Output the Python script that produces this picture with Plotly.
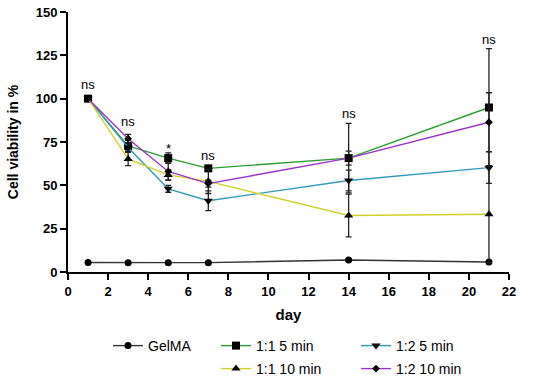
import plotly.graph_objects as go

days = [1, 3, 5, 7, 14, 21]

gelma = [5.5, 5.3, 5.4, 5.4, 6.9, 5.8]
gelma_err = [0.5, 0.5, 0.5, 0.5, 0.8, 0.5]

r11_5 = [100, 72.7, 65.7, 59.8, 65.7, 94.9]
r11_5_err = [0, 3.3, 3, 1.5, 20, 34]

r12_5 = [100, 71.8, 48, 41.1, 52.8, 60.2]
r12_5_err = [0, 2, 2, 5.7, 6, 9.1]

r11_10 = [100, 65.2, 56, 52.3, 32.6, 33.3]
r11_10_err = [0, 3.8, 3, 7, 12.3, 28]

r12_10 = [100, 76.9, 58, 51, 65.7, 86.4]
r12_10_err = [0, 2.5, 5, 2, 4, 17]

sig_labels = ["ns", "ns", "*", "ns", "ns", "ns"]
sig_y = [108, 87, 71.5, 67, 91.5, 134]

x_ticks = list(range(0, 23, 2))
y_ticks = [0, 25, 50, 75, 100, 125, 150]

FONT = "Liberation Sans, Arial, sans-serif"

series = [
    ("GelMA", gelma, gelma_err, "#333333", "circle", 7, "legend"),
    ("1:1 5 min", r11_5, r11_5_err, "#2e9e2e", "square", 8, "legend2"),
    ("1:2 5 min", r12_5, r12_5_err, "#3399bb", "triangle-down", 8, "legend3"),
    ("1:1 10 min", r11_10, r11_10_err, "#d2d22a", "triangle-up", 8, "legend4"),
    ("1:2 10 min", r12_10, r12_10_err, "#9933cc", "diamond", 6, "legend5"),
]

fig = go.Figure()
for name, y, err, color, sym, size, lg in series:
    fig.add_trace(go.Scatter(
        x=days, y=y, name=name, mode="lines+markers",
        line=dict(color=color, width=1.4),
        marker=dict(symbol=sym, size=size, color="black"),
        error_y=dict(type="data", array=err, visible=True,
                     color="#222222", thickness=1.3, width=3),
        legend=lg, showlegend=True,
    ))

for d, t, yy in zip(days, sig_labels, sig_y):
    fig.add_annotation(x=d, y=yy, text=t, showarrow=False,
                       font=dict(family=FONT, size=13, color="black"))

# plot area sits at x 68..509, y 12..272
def px2x(px):
    return (px - 68) / 441.0

def px2y(py):
    return (272 - py) / 260.0

leg_common = dict(orientation="v", bgcolor="rgba(0,0,0,0)",
                  font=dict(family=FONT, size=14, color="black"),
                  xanchor="left", yanchor="middle", itemwidth=30)

fig.update_layout(
    width=550, height=380,
    margin=dict(l=68, r=41, t=12, b=108, autoexpand=False),
    plot_bgcolor="white", paper_bgcolor="white",
    font=dict(family=FONT, color="black"),
    showlegend=True,
    legend=dict(x=px2x(108), y=px2y(346), **leg_common),
    legend2=dict(x=px2x(216), y=px2y(346), **leg_common),
    legend3=dict(x=px2x(356), y=px2y(346), **leg_common),
    legend4=dict(x=px2x(216), y=px2y(369), **leg_common),
    legend5=dict(x=px2x(356), y=px2y(369), **leg_common),
    xaxis=dict(
        range=[0, 22], tickvals=x_ticks, ticktext=[str(v) for v in x_ticks],
        showline=True, linecolor="black", linewidth=2,
        ticks="outside", ticklen=6, tickwidth=2, tickcolor="black",
        showgrid=False, zeroline=False, automargin=False,
        tickfont=dict(family=FONT, size=13, weight="bold"),
        title=dict(text="day", font=dict(family=FONT, size=15, weight="bold"), standoff=12),
    ),
    yaxis=dict(
        range=[0, 150], tickvals=y_ticks, ticktext=[str(v) for v in y_ticks],
        showline=True, linecolor="black", linewidth=2,
        ticks="outside", ticklen=6, tickwidth=2, tickcolor="black",
        showgrid=False, zeroline=False, automargin=False,
        ticklabeloverflow="allow",
        tickfont=dict(family=FONT, size=13, weight="bold"),
        title=dict(text="Cell viability in %", font=dict(family=FONT, size=14, weight="bold"), standoff=14),
    ),
)

fig.write_html("out.html", config={"displayModeBar": False},
               post_script="document.body.style.margin='0';")
